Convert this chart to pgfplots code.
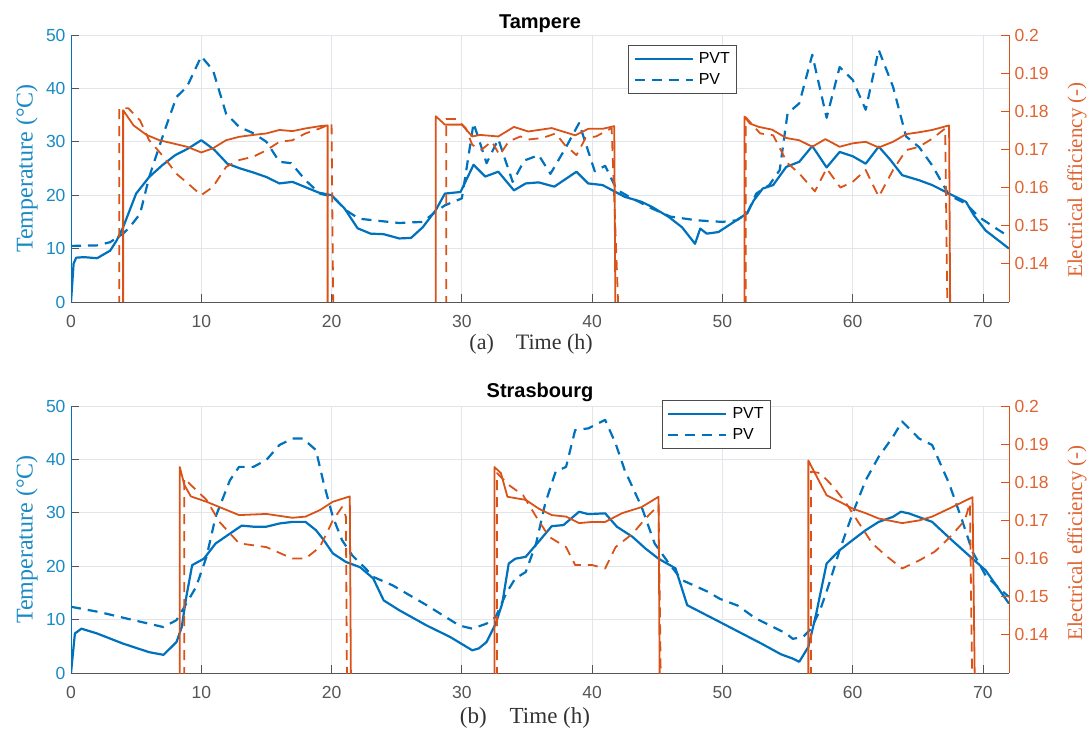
\documentclass[border=0pt]{standalone}
\usepackage{fontspec}
\setmainfont{Liberation Serif}
\setsansfont{Liberation Sans}
\usepackage{pgfplots}
\pgfplotsset{compat=1.18}
\definecolor{cblue}{RGB}{0,114,189}
\definecolor{corange}{RGB}{217,83,25}
\definecolor{tblue}{RGB}{25,138,196}
\definecolor{torange}{RGB}{224,100,50}
\definecolor{cgrid}{RGB}{226,230,234}
\definecolor{cax}{RGB}{85,85,85}
\pgfplotsset{
 leftax/.style={
  scale only axis, width=938pt, height=267pt,
  xmin=0, xmax=72, ymin=0, ymax=50,
  axis x line*=bottom, axis y line*=left,
  axis line style={-, line width=0.8pt},
  x axis line style={draw=cax},
  y axis line style={draw=cblue},
  xtick={0,10,20,30,40,50,60,70}, xticklabels={0,10,20,30,40,50,60,70},
  ytick={0,10,20,30,40,50}, yticklabels={0,10,20,30,40,50},
  tick align=inside, major tick length=8pt,
  tick style={line width=0.8pt, draw=cax},
  xticklabel style={font=\fontsize{17.5}{20}\sffamily, text=cax, yshift=-10pt},
  yticklabel style={font=\fontsize{17.5}{20}\sffamily, text=tblue, xshift=-2pt},
  grid=major, major grid style={draw=cgrid, line width=0.8pt},
  ylabel={Temperature (°C)},
  every axis y label/.style={at={(axis description cs:-0.047,0.5)}, rotate=90, anchor=center, font=\fontsize{24}{26}\selectfont, text=tblue},
  every axis title/.style={anchor=base, font=\fontsize{20}{22}\sffamily\bfseries, text=black},
  legend image code/.code={\draw[##1] (0pt,0pt) -- (58pt,0pt);},
  legend cell align=left,
 },
 leg/.style={legend style={at={#1}, anchor=north west, draw=black!70, line width=0.8pt, fill=white,
    font=\fontsize{16}{18}\sffamily, inner xsep=5pt, inner ysep=5pt, row sep=5pt,
    /tikz/every odd column/.append style={column sep=3pt}}},
 rightax/.style={
  scale only axis, width=938pt, height=267pt,
  xmin=0, xmax=72, ymin=0.13, ymax=0.2,
  axis x line=none, axis y line*=right,
  axis line style={-, line width=0.8pt, draw=corange},
  xtick=\empty,
  ytick={0.14,0.15,0.16,0.17,0.18,0.19,0.2}, yticklabels={0.14,0.15,0.16,0.17,0.18,0.19,0.2},
  tick align=inside, major tick length=8pt,
  tick style={line width=0.8pt, draw=corange},
  yticklabel style={font=\fontsize{17.5}{20}\sffamily, text=torange, xshift=2pt},
  ylabel={Electrical efficiency (-)},
 },
 pvt/.style={cblue, line width=2.2pt, line join=round},
 pv/.style={cblue, line width=2.2pt, line join=round, dash pattern=on 10pt off 7pt},
 epvt/.style={corange, line width=1.8pt, line join=round},
 epv/.style={corange, line width=1.8pt, line join=round, dash pattern=on 10pt off 7pt},
}
\begin{document}
\begin{tikzpicture}
% ---------------- Tampere ----------------
\begin{axis}[leftax, at={(71pt,432pt)}, anchor=south west,
  title={Tampere},
  title style={at={(axis description cs:0.5,1.0225)}},
  xlabel={(a)\quad Time (h)},
  every axis x label/.style={at={(axis description cs:0.4905,-0.178)}, anchor=base, font=\fontsize{22}{24}\selectfont, text=black!80},
  leg={(0.594,0.9625)},
]
\addplot[pvt] coordinates {(0,0) (0.2,7.2) (0.4,8.3) (1,8.4) (2,8.2) (3,9.6) (3.5,11.5) (4,14) (5,20.3) (6,23.4) (7,25.6) (8,27.5) (9,28.75) (10,30.3) (11,28.5) (12,25.9) (13,25) (14,24.25) (15,23.4) (16,22.2) (17,22.5) (18,21.5) (19,20.5) (20,20) (21,17.5) (22,13.8) (23,12.8) (24,12.7) (25.2,11.9) (26.1,12) (27,14) (28,17.2) (28.7,20.3) (29.9,20.6) (30.9,25.7) (31.8,23.5) (32.8,24.4) (34,20.9) (34.9,22.2) (35.9,22.4) (37.1,21.6) (38.8,24.4) (39.7,22.2) (40.8,21.9) (41.8,20.6) (42.5,19.7) (43.8,18.75) (44.6,17.8) (45.9,15.9) (46.9,14) (47.9,10.9) (48.3,13.75) (48.8,12.8) (49.7,13.1) (50.7,14.7) (51.9,16.6) (52.4,19) (53.1,21.25) (53.9,21.9) (54.9,25.3) (55.9,26.25) (56.9,29.2) (58,25.2) (59,28.1) (60,27.3) (61,25.9) (62,29.1) (62.9,26.6) (63.8,23.75) (65.1,22.8) (66.1,21.9) (67.4,20.3) (68.7,18.75) (69.3,16.25) (70.2,13.4) (72,10)};
\addlegendentry{PVT}
\addplot[pv] coordinates {(0,10.5) (2,10.6) (3,11.2) (4,12.8) (4.5,14) (5.3,16.5) (6,23.4) (7.1,31.5) (8.1,38.4) (8.9,40.3) (10,46) (10.9,43.4) (11.9,35.3) (12.9,32.8) (14,31.6) (15,30) (16,26.25) (16.9,26) (18,22.8) (19.1,20.3) (20.1,19.7) (21.1,17.2) (22.1,15.6) (23.6,15.2) (25.2,14.8) (27,15) (28,16.9) (28.7,18.1) (30,19.4) (30.3,24) (30.9,33.5) (31.9,26) (32.8,30.5) (33.9,22.5) (34.8,26.5) (35.9,27.5) (36.8,24) (38,29) (39,33.5) (39.6,29) (40.2,24.5) (41,25.5) (41.9,21) (43,19.5) (44.6,17.5) (46,16) (48,15.3) (50,15) (51.1,15.3) (51.9,16.6) (52.6,20.3) (53.6,21.9) (54.4,24.7) (55,35.3) (55.9,37.2) (56.9,46.3) (58,34.5) (59,44) (60,41.6) (61,36) (62,47.2) (63.1,40.3) (64.1,31) (65.1,29) (66.1,25.6) (67.4,20) (68.7,18.4) (69.7,15.9) (72,12.2)};
\addlegendentry{PV}
\end{axis}
\begin{axis}[rightax, at={(71pt,432pt)}, anchor=south west,
  every axis y label/.style={at={(axis description cs:1.0725,0.457)}, rotate=90, anchor=center, font=\fontsize{21}{23}\selectfont, text=torange},
]
\addplot[epvt] coordinates {(4.0,0.12) (4.0,0.1803) (4.8,0.1763) (5.8,0.1738) (6.8,0.1724) (7.8,0.1716) (8.9,0.1707) (10,0.1692) (10.9,0.1703) (11.9,0.1724) (12.9,0.1733) (14,0.1738) (15,0.1742) (16,0.1751) (17,0.1748) (18,0.1755) (19.1,0.1761) (19.7,0.1763) (19.7,0.12)};
\addplot[epvt] coordinates {(28.0,0.12) (28.0,0.1787) (28.7,0.1765) (30.0,0.1765) (30.8,0.1734) (31.4,0.1738) (32.8,0.1734) (34.0,0.1759) (35.1,0.1747) (36.9,0.1756) (38.7,0.1737) (39.7,0.1754) (40.8,0.1754) (41.7,0.1761) (41.8,0.12)};
\addplot[epvt] coordinates {(51.7,0.12) (51.7,0.1786) (52.1,0.1768) (52.8,0.1759) (53.8,0.1752) (54.9,0.1730) (55.9,0.1724) (56.9,0.1707) (57.9,0.1727) (59.0,0.1707) (60.0,0.1716) (61.0,0.1720) (62.0,0.1705) (63.1,0.1720) (64.1,0.1740) (65.1,0.1745) (66.1,0.1751) (67.4,0.1763) (67.5,0.12)};
\addplot[epv] coordinates {(3.7,0.12) (3.7,0.1808) (4.4,0.1808) (5.3,0.1776) (6.0,0.1724) (7.1,0.1681) (8.1,0.1636) (9.1,0.1607) (10,0.1580) (10.9,0.1602) (11.9,0.1654) (12.9,0.1672) (14,0.1681) (15,0.1698) (16,0.1720) (17,0.1724) (18,0.1742) (19.1,0.1755) (20.0,0.1768) (20.15,0.12)};
\addplot[epv] coordinates {(28.8,0.12) (28.8,0.1780) (29.6,0.1780) (30.3,0.1756) (30.8,0.1712) (31.5,0.1699) (32.3,0.1721) (32.9,0.1685) (33.6,0.1721) (34.5,0.1734) (35.1,0.1726) (36.2,0.1730) (37.2,0.1742) (37.9,0.1712) (38.8,0.1685) (39.5,0.1730) (40.3,0.1734) (41.5,0.1756) (42.1,0.12)};
\addplot[epv] coordinates {(51.8,0.12) (51.8,0.1784) (52.9,0.1742) (53.9,0.1737) (55.0,0.1664) (55.9,0.1637) (57.1,0.1590) (58.0,0.1650) (59.06,0.1600) (60.0,0.1615) (61.0,0.1646) (62.0,0.1576) (63.1,0.1646) (64.1,0.1698) (65.1,0.1707) (66.1,0.1728) (67.1,0.1755) (67.3,0.12)};
\end{axis}
% ---------------- Strasbourg ----------------
\begin{axis}[leftax, at={(71pt,61pt)}, anchor=south west,
  title={Strasbourg},
  title style={at={(axis description cs:0.5,1.03)}},
  xlabel={(b)\quad Time (h)},
  every axis x label/.style={at={(axis description cs:0.484,-0.19)}, anchor=base, font=\fontsize{23}{25}\selectfont, text=black!80},
  leg={(0.63,1.0225)},
]
\addplot[pvt] coordinates {(0,0) (0.3,7.4) (0.8,8.3) (2,7.4) (4,5.5) (6,3.9) (7.1,3.4) (8.1,5.8) (8.5,8.6) (8.85,14.25) (9.3,20.2) (10.2,21.4) (11.1,24.25) (12.2,26.1) (13.1,27.6) (14,27.4) (15,27.4) (16,28) (17,28.3) (18,28.3) (18.8,26.75) (19.4,24.9) (20.1,22.4) (21.1,20.8) (22.2,19.8) (23.2,17.7) (24.0,13.6) (25.2,11.75) (27.3,8.9) (29.1,6.75) (30.8,4.25) (31.3,4.6) (31.9,5.8) (32.6,9.25) (33.1,13) (33.6,20.5) (34.1,21.4) (34.9,21.75) (35.9,24.6) (36.9,27.5) (37.8,27.7) (39,30.2) (39.7,29.75) (41,29.9) (41.9,27.4) (43.1,25.5) (44.1,23.3) (45.1,21.4) (46.4,19.6) (47.3,12.7) (50,9.3) (53,5.5) (54.5,3.5) (55.4,2.7) (55.9,2.1) (56.6,4.9) (57.2,11.1) (58,20.5) (59,23) (60,24.9) (61,26.75) (62,28.3) (63.1,29.25) (63.7,30.2) (64.3,29.9) (66.1,28.3) (67.6,24.9) (69.2,21.4) (70.2,19.25) (72,13)};
\addlegendentry{PVT}
\addplot[pv] coordinates {(0,12.4) (2.2,11.4) (4.8,9.9) (7.1,8.6) (8.1,9.9) (8.85,13) (9.6,16.1) (10.4,21.75) (11.1,29.25) (12.2,36.1) (12.9,38.6) (14,38.6) (15,39.9) (16,42.7) (17,43.9) (17.8,43.9) (18.8,41.75) (19.4,35.5) (20.1,29.25) (20.8,24.9) (21.6,22) (22.6,19.6) (23.2,18) (24.7,16.4) (27.3,12.7) (29.8,8.9) (30.8,8.3) (31.9,9.25) (32.6,10.5) (33.4,14.9) (34.1,17.7) (34.9,18.9) (35.7,24.25) (36.4,31.75) (37.2,37.7) (38,38.6) (38.7,45.5) (39.7,45.8) (41,47.4) (41.8,43) (42.5,38) (43.8,31.1) (44.8,24.25) (45.9,20.5) (46.9,17.4) (48.9,15.2) (49.8,13.9) (51.2,12.6) (52.5,10.3) (54.9,7.4) (55.4,6.4) (56.2,6.75) (56.8,8.3) (57.5,11.75) (58.2,16.75) (59,23) (60,29.9) (61,36.1) (62,40.5) (63.1,44.25) (63.8,47.1) (65.1,43.9) (66.1,42.7) (67.4,35.5) (68.4,28.6) (69.2,22.7) (70.2,18.3) (71.4,15.5) (72,14.25)};
\addlegendentry{PV}
\end{axis}
\begin{axis}[rightax, at={(71pt,61pt)}, anchor=south west,
  every axis y label/.style={at={(axis description cs:1.0725,0.487)}, rotate=90, anchor=center, font=\fontsize{21}{23}\selectfont, text=torange},
]
\addplot[epvt] coordinates {(8.35,0.12) (8.35,0.1840) (8.7,0.1793) (9.2,0.1763) (10.4,0.1749) (11.4,0.1735) (12.9,0.1714) (15,0.1717) (17,0.1707) (18,0.1710) (19.1,0.1727) (20.1,0.1749) (21.4,0.1763) (21.5,0.12)};
\addplot[epvt] coordinates {(32.5,0.12) (32.5,0.1840) (33.0,0.1824) (33.5,0.1762) (34.9,0.1754) (35.9,0.1731) (36.9,0.1714) (38,0.1710) (39,0.1693) (40,0.1696) (41,0.1696) (42.3,0.1719) (43.8,0.1735) (45.1,0.1762) (45.2,0.12)};
\addplot[epvt] coordinates {(56.6,0.12) (56.6,0.1857) (57.1,0.1824) (58,0.1766) (59,0.1749) (60,0.1731) (61,0.1719) (62,0.1705) (63.8,0.1693) (65.1,0.1700) (66.1,0.1710) (67.4,0.1731) (69.2,0.1761) (69.4,0.12)};
\addplot[epv] coordinates {(8.7,0.12) (8.7,0.1810) (9.2,0.1793) (10.4,0.1754) (11.4,0.1696) (12.9,0.1640) (15,0.1630) (17,0.1600) (18,0.1600) (19.1,0.1630) (20.1,0.1700) (20.8,0.1735) (21.1,0.1710) (21.2,0.12)};
\addplot[epv] coordinates {(32.7,0.12) (32.7,0.1824) (33.6,0.1793) (34.7,0.1766) (35.7,0.1710) (36.7,0.1657) (38,0.1630) (38.7,0.1583) (40,0.1583) (41,0.1574) (41.8,0.1630) (43.1,0.1665) (44.1,0.1705) (45.1,0.1740) (45.3,0.12)};
\addplot[epv] coordinates {(56.8,0.12) (56.8,0.1828) (57.5,0.1824) (58.5,0.1789) (59.5,0.1745) (60.5,0.1692) (61.5,0.1640) (62.5,0.1609) (63.8,0.1574) (65.1,0.1595) (66.3,0.1618) (67.6,0.1661) (68.6,0.1700) (69.0,0.1745) (69.2,0.12)};
\end{axis}
\pgfresetboundingbox
\path[use as bounding box] (0,0) rectangle (1092pt,734pt);
\end{tikzpicture}
\end{document}
